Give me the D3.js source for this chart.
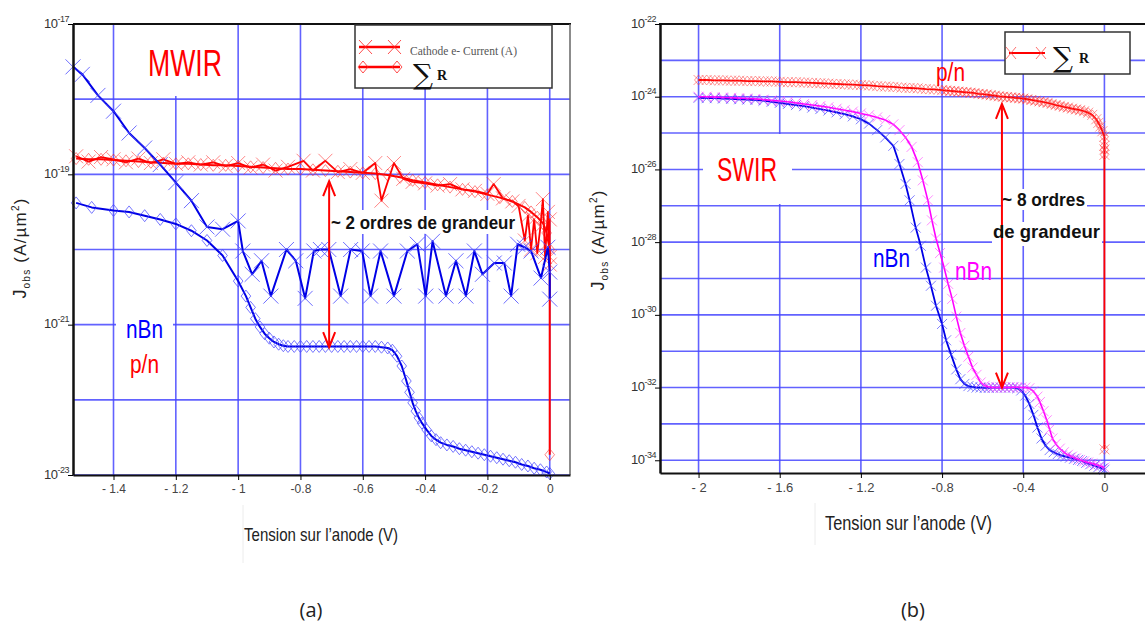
<!DOCTYPE html>
<html><head><meta charset="utf-8">
<script src="https://cdn.jsdelivr.net/npm/d3@7"></script>
<style>
html,body{margin:0;padding:0;background:#fff;}
svg{display:block;}
text{font-family:"Liberation Sans Narrow","Liberation Sans",Arial,sans-serif;}
</style></head><body>
<svg id="c" width="1145" height="635"></svg>
<script>
// ---------------- DATA (panel a : MWIR) ----------------
const mwirXTicks = [-1.4,-1.2,-1,-0.8,-0.6,-0.4,-0.2,0];
const mwirXTickLabels = ["- 1.4","- 1.2","- 1","-0.8","-0.6","-0.4","-0.2","0"];
const mwirYTickExp = [-17,-19,-21,-23];
const mwirGridExp = [-18,-19,-20,-21,-22,-23];
// [V, log10(J)]
const mwirNbnCathode = [[-1.53,-17.57],[-1.50,-17.67],[-1.45,-17.95],[-1.40,-18.16],[-1.35,-18.45],[-1.30,-18.65],[-1.25,-18.87],[-1.20,-19.11],[-1.15,-19.35],[-1.10,-19.70],[-1.05,-19.73],[-1.00,-19.62],[-0.985,-20.02],[-0.955,-20.33],[-0.925,-20.15],[-0.895,-20.62],[-0.845,-20.0],[-0.815,-20.15],[-0.785,-20.65],[-0.757,-20.02],[-0.736,-20.0],[-0.709,-20.0],[-0.671,-20.62],[-0.639,-20.0],[-0.602,-20.02],[-0.575,-20.62],[-0.543,-20.02],[-0.50,-20.62],[-0.457,-20.02],[-0.425,-19.93],[-0.398,-20.62],[-0.376,-19.89],[-0.333,-20.62],[-0.301,-20.15],[-0.269,-20.62],[-0.242,-20.02],[-0.216,-20.33],[-0.178,-20.18],[-0.146,-20.18],[-0.124,-20.62],[-0.103,-19.93],[-0.081,-19.97],[-0.06,-20.02],[-0.028,-20.38],[-0.006,-19.97],[0,-20.3],[0,-20.66]];
const mwirNbnSumR = [[-1.52,-19.38],[-1.47,-19.44],[-1.40,-19.48],[-1.35,-19.50],[-1.30,-19.55],[-1.25,-19.60],[-1.20,-19.66],[-1.15,-19.75],[-1.10,-19.88],[-1.05,-20.08],[-1.00,-20.42],[-0.975,-20.62],[-0.96,-20.77],[-0.945,-20.92],[-0.93,-21.03],[-0.915,-21.12],[-0.90,-21.18],[-0.885,-21.23],[-0.87,-21.26],[-0.855,-21.28],[-0.84,-21.29],[-0.82,-21.29],[-0.80,-21.29],[-0.78,-21.29],[-0.76,-21.29],[-0.74,-21.29],[-0.72,-21.29],[-0.70,-21.29],[-0.68,-21.29],[-0.66,-21.29],[-0.64,-21.29],[-0.62,-21.29],[-0.60,-21.29],[-0.58,-21.29],[-0.56,-21.29],[-0.54,-21.30],[-0.52,-21.31],[-0.505,-21.34],[-0.49,-21.42],[-0.475,-21.55],[-0.46,-21.75],[-0.45,-21.90],[-0.44,-22.04],[-0.43,-22.15],[-0.42,-22.24],[-0.41,-22.31],[-0.395,-22.40],[-0.38,-22.48],[-0.365,-22.53],[-0.35,-22.57],[-0.33,-22.60],[-0.31,-22.62],[-0.29,-22.65],[-0.27,-22.67],[-0.25,-22.69],[-0.23,-22.71],[-0.21,-22.73],[-0.19,-22.75],[-0.17,-22.77],[-0.15,-22.79],[-0.13,-22.81],[-0.11,-22.83],[-0.09,-22.86],[-0.07,-22.88],[-0.05,-22.91],[-0.03,-22.93],[-0.01,-22.96],[0,-22.98]];
const mwirPnCathode = [[-1.52,-18.76],[-1.48,-18.83],[-1.44,-18.77],[-1.40,-18.80],[-1.36,-18.84],[-1.32,-18.79],[-1.28,-18.85],[-1.24,-18.80],[-1.20,-18.86],[-1.16,-18.84],[-1.12,-18.87],[-1.08,-18.84],[-1.04,-18.89],[-1.00,-18.85],[-0.96,-18.91],[-0.92,-18.87],[-0.88,-18.95],[-0.84,-18.90],[-0.79,-18.82],[-0.76,-18.95],[-0.72,-18.82],[-0.68,-18.97],[-0.64,-18.93],[-0.60,-18.98],[-0.56,-18.85],[-0.54,-19.35],[-0.50,-18.85],[-0.47,-19.06],[-0.44,-19.10],[-0.40,-19.12],[-0.36,-19.15],[-0.32,-19.13],[-0.28,-19.20],[-0.24,-19.22],[-0.20,-19.26],[-0.18,-19.13],[-0.15,-19.32],[-0.12,-19.36],[-0.10,-19.42],[-0.08,-19.88],[-0.07,-19.55],[-0.06,-20.0],[-0.05,-19.6],[-0.04,-20.05],[-0.03,-19.7],[-0.022,-19.33],[-0.015,-20.1],[-0.006,-19.5],[0,-20.1],[0,-19.6],[0,-20.2]];
const mwirPnSumR = [[-1.52,-18.79],[-1.48,-18.80],[-1.44,-18.80],[-1.40,-18.81],[-1.36,-18.82],[-1.32,-18.83],[-1.28,-18.84],[-1.24,-18.85],[-1.20,-18.86],[-1.16,-18.86],[-1.12,-18.87],[-1.08,-18.88],[-1.04,-18.88],[-1.00,-18.89],[-0.96,-18.90],[-0.92,-18.91],[-0.88,-18.92],[-0.84,-18.93],[-0.80,-18.93],[-0.76,-18.94],[-0.72,-18.95],[-0.68,-18.96],[-0.64,-18.97],[-0.60,-18.98],[-0.56,-18.99],[-0.52,-19.01],[-0.48,-19.04],[-0.44,-19.08],[-0.40,-19.11],[-0.36,-19.14],[-0.32,-19.17],[-0.28,-19.20],[-0.24,-19.23],[-0.20,-19.27],[-0.16,-19.31],[-0.12,-19.36],[-0.08,-19.44],[-0.06,-19.50],[-0.04,-19.57],[-0.02,-19.66],[-0.01,-19.78],[0,-20.0],[0,-22.73]];
const mwirArrow = {v:-0.708, from:-19.09, to:-21.3};

// ---------------- DATA (panel b : SWIR) ----------------
const swirXTicks = [-2,-1.6,-1.2,-0.8,-0.4,0];
const swirXTickLabels = ["- 2","- 1.6","- 1.2","-0.8","-0.4","0"];
const swirYTickExp = [-22,-24,-26,-28,-30,-32,-34];
const swirGridExp = [-23,-24,-25,-26,-27,-28,-29,-30,-31,-32,-33,-34];
const swirPn = [[-2.00,-23.54],[-1.96,-23.54],[-1.92,-23.55],[-1.88,-23.55],[-1.84,-23.56],[-1.80,-23.56],[-1.76,-23.57],[-1.72,-23.57],[-1.68,-23.58],[-1.64,-23.58],[-1.60,-23.59],[-1.56,-23.60],[-1.52,-23.60],[-1.48,-23.61],[-1.44,-23.62],[-1.40,-23.63],[-1.36,-23.64],[-1.32,-23.65],[-1.28,-23.66],[-1.24,-23.67],[-1.20,-23.68],[-1.16,-23.69],[-1.12,-23.71],[-1.08,-23.72],[-1.04,-23.73],[-1.00,-23.75],[-0.96,-23.76],[-0.92,-23.77],[-0.88,-23.79],[-0.84,-23.80],[-0.80,-23.82],[-0.78,-23.83],[-0.76,-23.84],[-0.74,-23.85],[-0.72,-23.86],[-0.70,-23.87],[-0.68,-23.88],[-0.66,-23.89],[-0.64,-23.90],[-0.62,-23.92],[-0.60,-23.93],[-0.58,-23.94],[-0.56,-23.96],[-0.54,-23.97],[-0.52,-23.99],[-0.50,-24.00],[-0.48,-24.01],[-0.46,-24.02],[-0.44,-24.03],[-0.42,-24.04],[-0.40,-24.05],[-0.38,-24.07],[-0.36,-24.09],[-0.34,-24.11],[-0.32,-24.13],[-0.30,-24.15],[-0.28,-24.17],[-0.26,-24.20],[-0.24,-24.23],[-0.22,-24.25],[-0.20,-24.28],[-0.18,-24.30],[-0.16,-24.33],[-0.14,-24.35],[-0.12,-24.37],[-0.10,-24.40],[-0.08,-24.44],[-0.06,-24.50],[-0.04,-24.62],[-0.03,-24.72],[-0.02,-24.82],[-0.01,-24.95],[0,-25.10],[0,-25.35],[0,-25.60],[0,-25.45],[0,-33.70]];
const swirNbnBlue = [[-2.00,-24.03],[-1.96,-24.04],[-1.92,-24.04],[-1.88,-24.05],[-1.84,-24.06],[-1.80,-24.07],[-1.76,-24.08],[-1.72,-24.09],[-1.68,-24.11],[-1.64,-24.14],[-1.60,-24.17],[-1.56,-24.20],[-1.52,-24.23],[-1.48,-24.26],[-1.44,-24.30],[-1.40,-24.34],[-1.36,-24.38],[-1.32,-24.43],[-1.28,-24.48],[-1.24,-24.54],[-1.20,-24.62],[-1.16,-24.74],[-1.12,-24.92],[-1.08,-25.12],[-1.04,-25.35],[-1.01,-25.85],[-0.98,-26.40],[-0.96,-26.85],[-0.93,-27.60],[-0.905,-28.10],[-0.88,-28.70],[-0.855,-29.20],[-0.83,-29.75],[-0.80,-30.25],[-0.78,-30.70],[-0.755,-31.10],[-0.73,-31.50],[-0.71,-31.77],[-0.69,-31.90],[-0.67,-31.96],[-0.65,-31.98],[-0.63,-32.00],[-0.61,-32.00],[-0.59,-32.01],[-0.57,-32.01],[-0.55,-32.00],[-0.53,-32.00],[-0.51,-32.00],[-0.49,-32.00],[-0.47,-32.00],[-0.45,-32.00],[-0.43,-32.02],[-0.41,-32.08],[-0.39,-32.22],[-0.37,-32.45],[-0.35,-32.75],[-0.33,-33.10],[-0.31,-33.40],[-0.29,-33.60],[-0.27,-33.72],[-0.25,-33.78],[-0.23,-33.83],[-0.21,-33.87],[-0.19,-33.90],[-0.17,-33.93],[-0.15,-33.96],[-0.13,-33.99],[-0.11,-34.02],[-0.09,-34.07],[-0.07,-34.11],[-0.05,-34.15],[-0.03,-34.19],[-0.01,-34.23],[0,-34.26]];
const swirNbnMagenta = [[-2.00,-24.00],[-1.96,-24.00],[-1.92,-24.01],[-1.88,-24.02],[-1.84,-24.03],[-1.80,-24.04],[-1.76,-24.05],[-1.72,-24.06],[-1.68,-24.08],[-1.64,-24.10],[-1.60,-24.12],[-1.56,-24.14],[-1.52,-24.17],[-1.48,-24.20],[-1.44,-24.23],[-1.40,-24.26],[-1.36,-24.29],[-1.32,-24.33],[-1.28,-24.37],[-1.24,-24.41],[-1.20,-24.46],[-1.16,-24.51],[-1.12,-24.57],[-1.08,-24.64],[-1.04,-24.76],[-1.01,-24.92],[-0.98,-25.12],[-0.95,-25.38],[-0.92,-25.80],[-0.895,-26.30],[-0.87,-26.85],[-0.85,-27.40],[-0.83,-27.90],[-0.81,-28.30],[-0.79,-28.70],[-0.77,-29.15],[-0.75,-29.56],[-0.73,-30.05],[-0.71,-30.50],[-0.69,-30.85],[-0.67,-31.15],[-0.65,-31.45],[-0.63,-31.65],[-0.61,-31.86],[-0.59,-31.95],[-0.57,-31.98],[-0.55,-32.00],[-0.53,-32.00],[-0.51,-32.00],[-0.49,-32.00],[-0.47,-32.00],[-0.45,-31.99],[-0.43,-31.99],[-0.41,-32.00],[-0.39,-32.00],[-0.37,-32.02],[-0.35,-32.10],[-0.33,-32.25],[-0.318,-32.40],[-0.30,-32.65],[-0.284,-32.90],[-0.27,-33.15],[-0.256,-33.40],[-0.24,-33.55],[-0.22,-33.68],[-0.20,-33.78],[-0.18,-33.85],[-0.16,-33.90],[-0.14,-33.95],[-0.12,-33.99],[-0.10,-34.03],[-0.08,-34.06],[-0.06,-34.09],[-0.04,-34.12],[-0.02,-34.16],[0,-34.20]];
const swirArrow = {v:-0.505, from:-24.2, to:-32.0};

// ---------------- DRAWING ----------------
const svg = d3.select("#c");
const GRID = "#4646ff";
const P = v => Math.pow(10, v);
const NARROW = "'Liberation Sans Narrow','Liberation Sans',sans-serif";

function xMarks(g, x, y, pts, s, color, op, w){
  g.append("path")
   .attr("d", pts.map(d=>{const px=x(d[0]), py=y(P(d[1]));
      return `M${px-s},${py-s}L${px+s},${py+s}M${px-s},${py+s}L${px+s},${py-s}`;}).join(""))
   .attr("fill","none").attr("stroke",color).attr("stroke-opacity",op).attr("stroke-width",w||1);
}
function dMarks(g, x, y, pts, s, color, op, w){
  g.append("path")
   .attr("d", pts.map(d=>{const px=x(d[0]), py=y(P(d[1]));
      return `M${px},${py-s}L${px+s*0.8},${py}L${px},${py+s}L${px-s*0.8},${py}Z`;}).join(""))
   .attr("fill","none").attr("stroke",color).attr("stroke-opacity",op).attr("stroke-width",w||1);
}
function curve(g, x, y, pts, color, w){
  g.append("path").datum(pts)
   .attr("d", d3.line().x(d=>x(d[0])).y(d=>y(P(d[1]))))
   .attr("fill","none").attr("stroke",color).attr("stroke-width",w).attr("stroke-linejoin","round");
}
function expLabels(axisG, exps){
  axisG.selectAll(".tick").each(function(d,i){
    const t = d3.select(this).append("text").attr("x",-4).attr("y",3).attr("text-anchor","end")
      .attr("fill","#333").attr("font-size",13).style("font-family",NARROW).attr("letter-spacing",-0.5);
    t.append("tspan").text("10");
    t.append("tspan").attr("font-size",9).attr("dy",-6).text(String(exps[i]));
  });
}
function arrow(g, x, y, a){
  const px = x(a.v), y1 = y(P(a.from)), y2 = y(P(a.to));
  g.append("line").attr("x1",px).attr("x2",px).attr("y1",y1).attr("y2",y2)
   .attr("stroke","#ff0000").attr("stroke-width",2);
  g.append("path").attr("d",`M${px-6},${y1+15}L${px},${y1}L${px+6},${y1+15}M${px-6},${y2-15}L${px},${y2}L${px+6},${y2-15}`)
   .attr("fill","none").attr("stroke","#ff0000").attr("stroke-width",2);
}
function yTitle(tx, ty, len){
  const t = svg.append("text").attr("transform",`translate(${tx},${ty}) rotate(-90)`)
    .attr("text-anchor","middle").attr("fill","#222")
    .style("font-family","'Liberation Sans',Arial,sans-serif").attr("font-size",17).attr("letter-spacing",1.2);
  t.append("tspan").attr("font-size",18).text("J");
  t.append("tspan").attr("font-size",10).attr("dy",4).text("obs");
  t.append("tspan").attr("dy",-4).text(" (A/µm");
  t.append("tspan").attr("font-size",10).attr("dy",-7).text("2");
  t.append("tspan").attr("dy",7).text(")");
}

// ===== Panel A =====
const xA = d3.scaleLinear().domain([-1.53, 0.065]).range([73, 570]);
const yA = d3.scaleLog().domain([1e-17, 1e-23]).range([24, 475]);
const gA = svg.append("g");
gA.selectAll(".hg").data(mwirGridExp).join("line")
  .attr("x1",73).attr("x2",570).attr("y1",d=>yA(P(d))).attr("y2",d=>yA(P(d)))
  .attr("stroke",GRID).attr("stroke-width",1.6).attr("stroke-opacity",0.85);
gA.selectAll(".vg").data(mwirXTicks).join("line")
  .attr("x1",d=>xA(d)).attr("x2",d=>xA(d)).attr("y1",24).attr("y2",475)
  .attr("stroke",GRID).attr("stroke-width",1.6).attr("stroke-opacity",0.85);
gA.append("rect").attr("x",134).attr("y",25).attr("width",102).attr("height",71).attr("fill","#fff");
gA.append("rect").attr("x",116).attr("y",310).attr("width",57).attr("height",32).attr("fill","#fff");
gA.append("rect").attr("x",333).attr("y",210).attr("width",183).attr("height",24).attr("fill","#fff");
curve(gA,xA,yA,mwirPnSumR,"#ff0000",2);
dMarks(gA,xA,yA,mwirPnSumR,6,"#ff2020",0.55);
curve(gA,xA,yA,mwirPnCathode,"#ff0000",1.8);
xMarks(gA,xA,yA,mwirPnCathode,7,"#ff2020",0.55);
curve(gA,xA,yA,mwirNbnSumR,"#0000e6",2);
dMarks(gA,xA,yA,mwirNbnSumR,6,"#4a4aff",0.75);
curve(gA,xA,yA,mwirNbnCathode,"#0000e6",2);
xMarks(gA,xA,yA,mwirNbnCathode,7.5,"#4a4aff",0.8);
arrow(gA,xA,yA,mwirArrow);
gA.append("line").attr("x1",73).attr("x2",571).attr("y1",24).attr("y2",24).attr("stroke","#111").attr("stroke-width",2);
gA.append("line").attr("x1",570).attr("x2",570).attr("y1",24).attr("y2",475).attr("stroke","#666").attr("stroke-width",1.5);
const axA = gA.append("g").attr("transform","translate(0,475)")
  .call(d3.axisBottom(xA).tickValues(mwirXTicks).tickFormat((d,i)=>mwirXTickLabels[i]).tickSize(5).tickSizeOuter(0));
axA.select(".domain").attr("stroke","#111").attr("stroke-width",2);
axA.selectAll("text").attr("font-size",12).attr("fill","#444").attr("dy","0.85em").style("font-family",NARROW);
const ayA = gA.append("g").attr("transform","translate(73,0)")
  .call(d3.axisLeft(yA).tickValues(mwirYTickExp.map(P)).tickFormat("").tickSize(5).tickSizeOuter(0));
ayA.select(".domain").attr("stroke","#111").attr("stroke-width",2.5);
expLabels(ayA, mwirYTickExp);
const lgA = gA.append("g");
lgA.append("rect").attr("x",355).attr("y",25).attr("width",197).attr("height",63).attr("fill","#fff").attr("stroke","#333").attr("stroke-width",1.5);
lgA.append("line").attr("x1",359).attr("x2",400).attr("y1",47).attr("y2",47).attr("stroke","#ff0000").attr("stroke-width",2.5);
lgA.append("path").attr("d","M359,40L372,54M359,54L372,40M388,40L401,54M388,54L401,40").attr("stroke","#ff2020").attr("stroke-opacity",0.8).attr("fill","none");
lgA.append("line").attr("x1",359).attr("x2",400).attr("y1",67).attr("y2",67).attr("stroke","#ff0000").attr("stroke-width",2.5);
lgA.append("path").attr("d","M363,61L368,67L363,73L358,67ZM397,61L402,67L397,73L392,67Z").attr("stroke","#ff2020").attr("stroke-opacity",0.8).attr("fill","none");
lgA.append("text").attr("x",410).attr("y",55).attr("fill","#555").attr("font-size",12.5)
  .style("font-family","'Liberation Serif',serif").attr("textLength",107).attr("lengthAdjust","spacingAndGlyphs").text("Cathode e- Current (A)");
lgA.append("text").attr("x",413).attr("y",84).attr("fill","#111").attr("font-size",28).style("font-family","'DejaVu Serif','Liberation Serif',serif").text("∑");
lgA.append("text").attr("x",437).attr("y",80).attr("fill","#111").attr("font-size",14).attr("font-weight","bold").style("font-family","'Liberation Serif',serif").text("R");
gA.append("text").attr("x",148).attr("y",76).attr("fill","#ff0000").attr("font-size",37).attr("textLength",74).attr("lengthAdjust","spacingAndGlyphs").text("MWIR");
gA.append("text").attr("x",126).attr("y",338).attr("fill","#0000ff").attr("font-size",26).attr("textLength",37).attr("lengthAdjust","spacingAndGlyphs").text("nBn");
gA.append("text").attr("x",130).attr("y",373).attr("fill","#ff0000").attr("font-size",26).attr("textLength",29).attr("lengthAdjust","spacingAndGlyphs").text("p/n");
gA.append("text").attr("x",331).attr("y",229).attr("fill","#111").attr("font-size",19).attr("font-weight","bold").attr("textLength",184).attr("lengthAdjust","spacingAndGlyphs").text("~ 2 ordres de grandeur");

// ===== Panel B =====
const xB = d3.scaleLinear().domain([-2.19, 0.2]).range([660, 1145]);
const yB = d3.scaleLog().domain([1e-22, P(-34.35)]).range([24, 473]);
const gB = svg.append("g");
gB.selectAll(".hg").data(swirGridExp).join("line")
  .attr("x1",660).attr("x2",1145).attr("y1",d=>yB(P(d))).attr("y2",d=>yB(P(d)))
  .attr("stroke",GRID).attr("stroke-width",1.6).attr("stroke-opacity",0.85);
gB.selectAll(".vg").data(swirXTicks).join("line")
  .attr("x1",d=>xB(d)).attr("x2",d=>xB(d)).attr("y1",24).attr("y2",473)
  .attr("stroke",GRID).attr("stroke-width",1.6).attr("stroke-opacity",0.85);
gB.append("rect").attr("x",703).attr("y",134).attr("width",89).attr("height",70).attr("fill","#fff");
gB.append("rect").attr("x",1003).attr("y",189).attr("width",84).attr("height",21).attr("fill","#fff");
gB.append("rect").attr("x",992).attr("y",222).attr("width",110).attr("height",24).attr("fill","#fff");
curve(gB,xB,yB,swirPn,"#ff0000",1.8);
dMarks(gB,xB,yB,swirPn,5,"#ff3030",0.5);
xMarks(gB,xB,yB,swirPn,5,"#ff3030",0.5);
curve(gB,xB,yB,swirNbnBlue,"#0000e6",1.8);
xMarks(gB,xB,yB,swirNbnBlue,5,"#4a4aff",0.7);
curve(gB,xB,yB,swirNbnMagenta,"#ff00ff",1.6);
xMarks(gB,xB,yB,swirNbnMagenta,5,"#ff40ff",0.6);
arrow(gB,xB,yB,swirArrow);
gB.append("line").attr("x1",659).attr("x2",1145).attr("y1",24).attr("y2",24).attr("stroke","#111").attr("stroke-width",2);
const axB = gB.append("g").attr("transform","translate(0,473)")
  .call(d3.axisBottom(xB).tickValues(swirXTicks).tickFormat((d,i)=>swirXTickLabels[i]).tickSize(5).tickSizeOuter(0));
axB.select(".domain").attr("stroke","#111").attr("stroke-width",2);
axB.selectAll("text").attr("font-size",13).attr("fill","#444").attr("dy","0.85em").style("font-family",NARROW);
const ayB = gB.append("g").attr("transform","translate(660,0)")
  .call(d3.axisLeft(yB).tickValues(swirYTickExp.map(P)).tickFormat("").tickSize(5).tickSizeOuter(0));
ayB.select(".domain").attr("stroke","#111").attr("stroke-width",2.5);
expLabels(ayB, swirYTickExp);
const lgB = gB.append("g");
lgB.append("rect").attr("x",1005).attr("y",32).attr("width",125).attr("height",42).attr("fill","#fff").attr("stroke","#333").attr("stroke-width",1.5);
lgB.append("line").attr("x1",1009).attr("x2",1045).attr("y1",53).attr("y2",53).attr("stroke","#ff0000").attr("stroke-width",1.8);
lgB.append("path").attr("d","M1006,47L1016,59M1006,59L1016,47M1036,47L1046,59M1036,59L1046,47").attr("stroke","#ff3030").attr("stroke-opacity",0.7).attr("fill","none");
lgB.append("text").attr("x",1053).attr("y",67).attr("fill","#111").attr("font-size",28).style("font-family","'DejaVu Serif','Liberation Serif',serif").text("∑");
lgB.append("text").attr("x",1079).attr("y",63).attr("fill","#111").attr("font-size",14).attr("font-weight","bold").style("font-family","'Liberation Serif',serif").text("R");
gB.append("text").attr("x",717).attr("y",181).attr("fill","#ff0000").attr("font-size",33).attr("textLength",60).attr("lengthAdjust","spacingAndGlyphs").text("SWIR");
gB.append("text").attr("x",936).attr("y",81).attr("fill","#ff0000").attr("font-size",26).attr("textLength",29).attr("lengthAdjust","spacingAndGlyphs").text("p/n");
gB.append("text").attr("x",873).attr("y",267).attr("fill","#0000ff").attr("font-size",26).attr("textLength",37).attr("lengthAdjust","spacingAndGlyphs").text("nBn");
gB.append("text").attr("x",955).attr("y",280).attr("fill","#ff00ff").attr("font-size",26).attr("textLength",37).attr("lengthAdjust","spacingAndGlyphs").text("nBn");
gB.append("text").attr("x",1002).attr("y",206).attr("fill","#111").attr("font-size",19).attr("font-weight","bold").attr("textLength",83).attr("lengthAdjust","spacingAndGlyphs").text("~ 8 ordres");
gB.append("text").attr("x",993).attr("y",238).attr("fill","#111").attr("font-size",19).attr("font-weight","bold").attr("textLength",107).attr("lengthAdjust","spacingAndGlyphs").text("de grandeur");

// ===== Titles =====
yTitle(26, 248);
yTitle(604, 240);
svg.append("line").attr("x1",243).attr("x2",243).attr("y1",505).attr("y2",563).attr("stroke","#ececec");
svg.append("line").attr("x1",815).attr("x2",815).attr("y1",503).attr("y2",545).attr("stroke","#ececec");
svg.append("text").attr("x",244).attr("y",541).attr("fill","#222").attr("font-size",19).attr("textLength",154).attr("lengthAdjust","spacingAndGlyphs").text("Tension sur l’anode (V)");
svg.append("text").attr("x",825).attr("y",530).attr("fill","#222").attr("font-size",20).attr("textLength",167).attr("lengthAdjust","spacingAndGlyphs").text("Tension sur l’anode (V)");
svg.append("text").attr("x",311).attr("y",617).attr("text-anchor","middle").attr("fill","#222").attr("font-size",20).style("font-family","'Open Sans','Liberation Sans',sans-serif").text("(a)");
svg.append("text").attr("x",913).attr("y",617).attr("text-anchor","middle").attr("fill","#222").attr("font-size",20).style("font-family","'Open Sans','Liberation Sans',sans-serif").text("(b)");
</script>
</body></html>
